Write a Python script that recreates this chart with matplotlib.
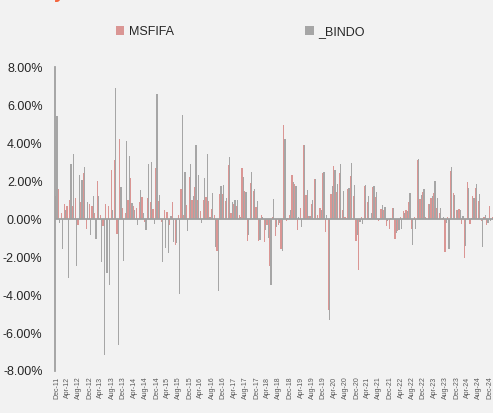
import numpy as np
import pandas as pd
import matplotlib
matplotlib.use('Agg')
import matplotlib.pyplot as plt
from matplotlib.ticker import FuncFormatter

plt.rcParams['font.family'] = ['Liberation Sans', 'DejaVu Sans']

# monthly returns in %, Dec-11 onwards
msfifa = [1.2, 1.6, 0.3, 0.8, 0.7, 1.0, 0.7, 1.1, -0.3, 0.9,
          2.4, -0.55, 0.8, 0.7, 0.3, 2.0, 0.2, -0.35, 0.8, 0.7,
          2.6, 3.1, -0.8, 4.2, 0.6, 0.3, 1.0, 2.15, 0.7, 0.6,
          0.9, 1.15, -0.15, 1.1, 0.9, 0.55, 2.7, 0.95, -0.15, 0.5,
          0.35, -0.3, 0.9, -1.35, 0.2, 1.6, 0.2, 0.75, 2.2, 1.0,
          1.7, 1.0, 0.4, 1.0, 1.15, 0.95, 0.55, 0.2, -1.7, 1.3,
          1.3, 0.95, 2.85, 0.3, 0.8, 0.7, 0.2, 2.7, 1.45, -1.15,
          1.9, 1.5, 0.65, -1.15, 0.2, -1.2, -0.3, -2.45, 0.1, -0.9,
          -0.3, -1.6, 4.95, -0.1, 0.2, 2.3, 1.85, -0.6, 0.6, 3.9,
          1.25, 0.15, 0.8, 2.1, 0.2, 0.6, 2.4, -0.7, -4.8, 1.3,
          2.8, 1.4, 2.4, 0.5, 0.1, 1.6, 2.25, 1.2, -1.15, -2.7,
          0.1, 1.75, 0.9, 0.05, 1.7, 1.15, -0.1, 0.55, 0.5, -0.35,
          -0.55, 0.6, -1.05, -0.65, 0.1, 0.4, 0.45, 0.9, -0.5, 0.1,
          3.1, 1.05, 1.4, 0.1, 0.8, 1.1, 1.35, 0.6, 0.3, 0.05,
          -1.75, 0.1, 2.55, 1.35, 0.45, 0.55, -0.25, -2.05, 1.95, -0.25,
          1.2, 1.65, 0.95, -0.1, 0.1, -0.3, 0.7, 0.1]
bindo = [5.4, -0.2, -1.6, 0.5, -3.1, 2.9, 3.4, -2.45, 2.3, 2.05,
         2.75, 0.9, -0.85, 1.2, -1.05, 1.2, -2.25, -7.15, -2.85, -3.45,
         0.5, 6.9, -6.65, 1.7, -2.2, 4.1, 3.3, 0.85, 0.45, -0.3,
         1.55, 0.3, -0.6, 2.9, 3.0, -0.25, 6.6, 1.25, -2.25, -1.5,
         -1.8, 0.15, -1.2, -1.25, -3.95, 5.5, 2.5, -0.65, 2.9, 1.2,
         3.9, 2.3, -0.2, 2.15, 3.4, 0.1, 1.35, -1.45, -3.8, 1.75,
         1.8, 1.1, 3.25, 0.9, 1.0, 1.0, 0.1, 2.2, 1.4, -0.85,
         2.5, 1.6, 0.95, -1.1, 0.1, -0.6, -1.0, -3.45, 1.05, -0.4,
         -0.2, -1.7, 4.2, 0.05, 0.5, 1.95, 1.75, 0.1, -0.4, 3.9,
         1.55, 0.15, 1.0, 2.1, 0.05, 0.5, 2.45, 0.2, -5.3, 1.75,
         2.6, 1.85, 2.9, 1.45, 0.05, 1.65, 2.95, 1.8, -0.85, -0.15,
         -0.25, 1.8, 1.2, 0.3, 1.75, 1.4, -0.05, 0.75, 0.65, -0.1,
         0.05, 0.6, -0.75, -0.6, -0.5, 0.3, 0.4, 1.35, -1.35, -0.5,
         3.15, 1.25, 1.6, 0.05, 0.8, 1.2, 2.0, 1.1, 0.6, 0.1,
         -0.2, -1.6, 2.75, 1.25, 0.5, 0.5, 0.15, -1.4, 1.65, 0.05,
         1.1, 1.85, 1.3, -1.45, 0.2, -0.2, -0.1, 0.7]

months = pd.date_range('2011-12-01', periods=len(msfifa), freq='MS')
labels = [m.strftime('%b-%y') for m in months]

bg = '#f2f2f2'
fig = plt.figure(figsize=(4.93, 4.13), dpi=100, facecolor=bg)
n = len(msfifa)
ax = fig.add_axes([0.1116, 0.1017, n * 2.78 / 493, 0.736], facecolor=bg)

x = np.arange(n)
w = 0.44
b1 = ax.bar(x - 0.22, msfifa, width=w, color='#da9694', linewidth=0)
b2 = ax.bar(x + 0.22, bindo, width=w, color='#a6a6a6', linewidth=0)
ax.axhline(0, color='#a0a0a0', linewidth=1.3)

ax.set_xlim(-0.5, n - 0.5)
ax.set_ylim(-8, 8)
ax.set_yticks(np.arange(-8, 8.1, 2))
ax.yaxis.set_major_formatter(FuncFormatter(lambda v, p: f'{v:.2f}%'))
ax.tick_params(axis='y', length=0, pad=9, labelsize=9, labelcolor='#262626')
ax.set_xticks(x[::4])
ax.set_xticklabels(labels[::4], rotation=90, fontsize=5, color='#595959')
ax.tick_params(axis='x', length=0, pad=4)

for s in ['top', 'right', 'bottom']:
    ax.spines[s].set_visible(False)
ax.spines['left'].set_color('#a0a0a0')
ax.spines['left'].set_linewidth(1.3)

fig.legend(handles=[b1, b2], labels=['MSFIFA', '_BINDO'],
           loc='center', bbox_to_anchor=(0.487, 0.923), ncol=2, frameon=False,
           fontsize=9, handlelength=0.7, handleheight=0.7, handletextpad=0.35,
           columnspacing=10.5, labelcolor='#262626')

# cut-off title fragment at the top edge
fig.text(0.11, 1.0 + 2.0 / 413, 'y', color='#f4623a', fontsize=14,
         fontweight='bold', va='baseline')

fig.savefig('out.png', dpi=100, facecolor=bg)
